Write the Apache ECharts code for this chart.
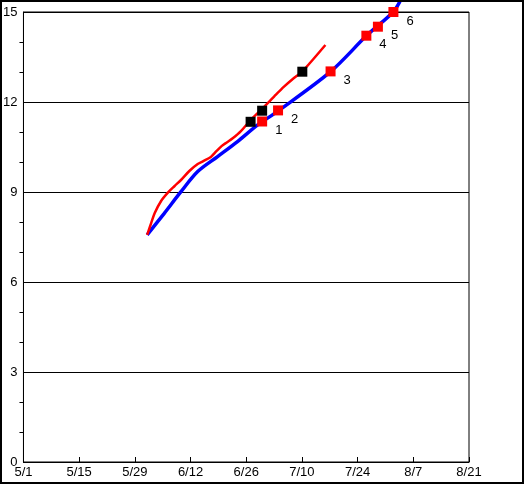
<!DOCTYPE html>
<html>
<head>
<meta charset="utf-8">
<script src="https://cdn.jsdelivr.net/npm/echarts@6/dist/echarts.min.js"></script>
<style>
html,body{margin:0;padding:0;background:#fff;}
#chart{width:524px;height:484px;}
</style>
</head>
<body>
<div id="chart"></div>
<script>
// x values are days since 5/1
var xTickLabels = ['5/1','5/15','5/29','6/12','6/26','7/10','7/24','8/7','8/21'];
var yTickLabels = ['0','3','6','9','12','15'];

var blueLine = [[31.1,7.57],[35.4,8.29],[39.6,9.01],[43.8,9.68],[48.8,10.18],[53.8,10.68],[58.8,11.23],[63.8,11.68],[77.2,13.01],[86.4,14.23],[93.0,15.01],[95.0,15.45]];
var redLine = [[31.1,7.57],[32.1,7.96],[33.0,8.3],[34.6,8.7],[36.3,8.98],[38.0,9.2],[39.6,9.4],[41.7,9.7],[43.8,9.93],[45.2,10.03],[47.1,10.17],[48.5,10.36],[49.8,10.53],[51.2,10.66],[52.6,10.79],[54.6,11.02],[57.1,11.4],[60.5,11.84],[63.0,12.18],[65.5,12.51],[68.0,12.8],[70.1,13.02],[73.0,13.45],[75.9,13.9]];
var redSquares = [[60.0,11.35],[64.0,11.72],[77.2,13.02],[86.2,14.21],[89.1,14.51],[93.0,15.0]];
var redSquareLabels = ['1','2','3','4','5','6'];
var blackSquares = [[57.1,11.34],[60.0,11.71],[70.1,13.01]];

var chart = echarts.init(document.getElementById('chart'), null, {renderer:'canvas'});
var font = 'Liberation Sans';
chart.setOption({
  animation:false,
  backgroundColor:'#fff',
  graphic:[{type:'rect', shape:{x:1,y:1,width:522,height:482}, style:{fill:'none',stroke:'#000',lineWidth:2}, z:100}],
  grid:{left:22,right:55,top:12,bottom:22,show:true,borderColor:'#000',borderWidth:1,backgroundColor:'transparent'},
  xAxis:{type:'value',min:0,max:112,interval:14,
    axisLine:{show:true,lineStyle:{color:'#000',width:1}},
    axisTick:{show:true,inside:true,length:5,lineStyle:{color:'#000'}},
    splitLine:{show:false},
    axisLabel:{color:'#000',fontFamily:font,fontSize:13,margin:4,
      formatter:function(v){return xTickLabels[Math.round(v/14)];}}
  },
  yAxis:{type:'value',min:0,max:15,interval:3,
    axisLine:{show:true,lineStyle:{color:'#000',width:1}},
    axisTick:{show:false},
    minorTick:{show:true,splitNumber:3,length:4,lineStyle:{color:'#000'}},
    splitLine:{show:true,lineStyle:{color:'#000',width:1}},
    axisLabel:{color:'#000',fontFamily:font,fontSize:13,margin:6,
      formatter:function(v){return yTickLabels[Math.round(v/3)];}}
  },
  series:[
    {type:'line',data:blueLine,smooth:0.3,symbol:'none',clip:false,lineStyle:{color:'#0000ff',width:3.5},z:2},
    {type:'line',data:redLine,smooth:0.3,symbol:'none',clip:false,lineStyle:{color:'#ff0000',width:2.5},z:3},
    {type:'scatter',data:redSquares.map(function(p,i){return {value:p,label:{formatter:redSquareLabels[i]}};}),
      symbol:'rect',symbolSize:10,itemStyle:{color:'#ff0000',opacity:1,borderWidth:0},emphasis:{disabled:true},z:4,
      label:{show:true,position:'right',distance:5,offset:[3,9],color:'#000',fontFamily:font,fontSize:13}},
    {type:'scatter',data:blackSquares,symbol:'rect',symbolSize:10,itemStyle:{color:'#000',opacity:1,borderWidth:0},emphasis:{disabled:true},z:5}
  ]
});
</script>
</body>
</html>
